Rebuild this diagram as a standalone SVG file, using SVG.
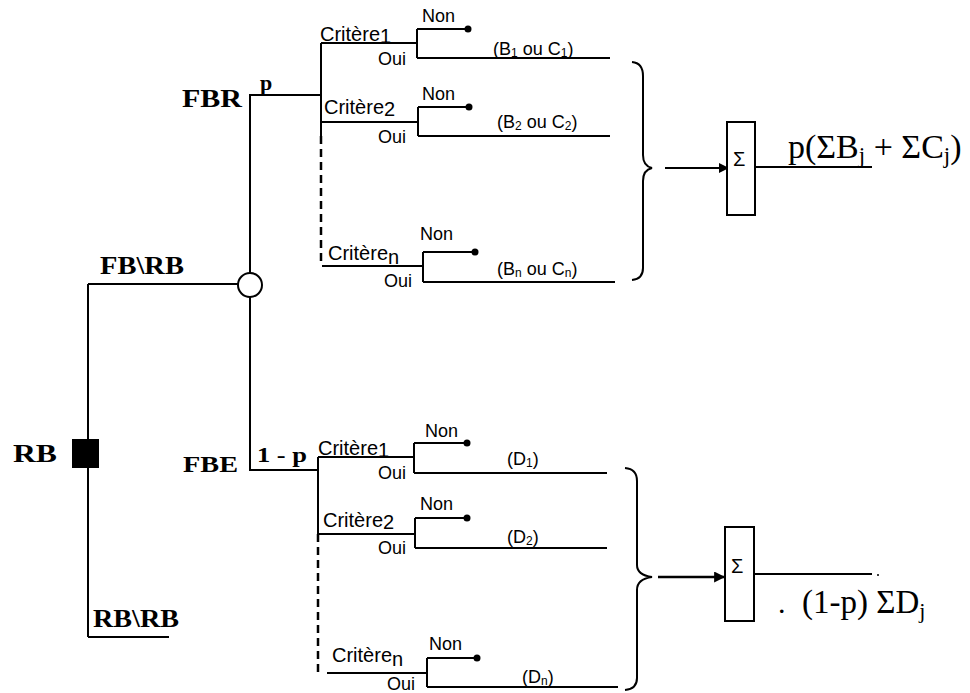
<svg xmlns="http://www.w3.org/2000/svg" width="970" height="693" viewBox="0 0 970 693">
<style>
.ln{stroke:#000;stroke-width:2;fill:none}
.dash{stroke:#000;stroke-width:2.5;fill:none;stroke-dasharray:8 5}
.s{font-family:"Liberation Sans",Arial,sans-serif;font-size:18px;fill:#000}
.s.c{font-size:20px}
.s.sig{font-size:20px}
.b{font-family:"Liberation Serif","Times New Roman",serif;font-weight:bold;fill:#000}
.m{font-family:"Liberation Serif","Times New Roman",serif;fill:#000}
.dot{fill:#000}
</style>
<defs>
<marker id="ah" viewBox="0 0 10 10" refX="9" refY="5" markerWidth="11" markerHeight="10" orient="auto" markerUnits="userSpaceOnUse">
<path d="M0,0 L10,5 L0,10 z" fill="#000"/>
</marker>
<marker id="ah2" viewBox="0 0 10 10" refX="9" refY="5" markerWidth="12" markerHeight="11" orient="auto" markerUnits="userSpaceOnUse">
<path d="M0,0 L10,5 L0,10 z" fill="#000"/>
</marker>
</defs>
<rect width="970" height="693" fill="#fff"/>

<g id="connectors">
<path class="ln" d="M88,284 V637 M88,284 H238 M88,637 H169"/>
<path class="ln" d="M250,273 V95 H321 M321,43 V136"/>
<path class="dash" d="M321,136 V266"/>
<path class="ln" d="M250,297 V470 H318 M318,457 V534"/>
<path class="dash" d="M318,534 V675"/>
<path class="ln" d="M665,168 H728" marker-end="url(#ah)"/>
<path class="ln" style="stroke-width:2.5" d="M658,577 H724" marker-end="url(#ah2)"/>
<path class="ln" d="M755,167 H872"/>
<path class="ln" d="M754,574 H872"/>
<circle class="dot" cx="878" cy="575" r="1"/>
</g>

<g id="node-RB">
<rect x="72" y="439" width="27" height="29" fill="#000"/>
<text class="b" x="13" y="462" font-size="25" textLength="44" lengthAdjust="spacingAndGlyphs">RB</text>
</g>
<g id="label-FBRB"><text class="b" x="100" y="274" font-size="26" textLength="84" lengthAdjust="spacingAndGlyphs">FB\RB</text></g>
<g id="label-RBRB"><text class="b" x="93" y="627" font-size="26" textLength="86" lengthAdjust="spacingAndGlyphs">RB\RB</text></g>

<g id="node-chance">
<circle cx="250" cy="285" r="12" fill="#fff" stroke="#000" stroke-width="2"/>
</g>

<g id="label-FBR">
<text class="b" x="182" y="107" font-size="25" textLength="60" lengthAdjust="spacingAndGlyphs">FBR</text>
<text class="b" x="260" y="90" font-size="22">p</text>
</g>
<g id="label-FBE">
<text class="b" x="183" y="472" font-size="24" textLength="55" lengthAdjust="spacingAndGlyphs">FBE</text>
<text class="b" x="257" y="462" font-size="22" textLength="50" lengthAdjust="spacingAndGlyphs">1 - p</text>
</g>

<g id="crit-top-1">
<path class="ln" d="M321,43 H417 M417,29 V58 M417,29 H468 M417,58 H610"/>
<circle class="dot" cx="468" cy="29" r="3.5"/>
<text class="s c" x="320" y="41">Critère<tspan dy="2">1</tspan></text>
<text class="s" x="422" y="22">Non</text>
<text class="s" x="378" y="65">Oui</text>
<text class="s" x="493" y="55">(B<tspan font-size="12" dy="2">1</tspan><tspan dy="-2"> ou C</tspan><tspan font-size="12" dy="2">1</tspan><tspan dy="-2">)</tspan></text>
</g>
<g id="crit-top-2">
<path class="ln" d="M321,122 H418 M418,107 V136 M418,107 H469 M418,136 H610"/>
<circle class="dot" cx="469" cy="107" r="3.5"/>
<text class="s c" x="324" y="114">Critère<tspan dy="2">2</tspan></text>
<text class="s" x="422" y="100">Non</text>
<text class="s" x="378" y="143">Oui</text>
<text class="s" x="497" y="128">(B<tspan font-size="12" dy="2">2</tspan><tspan dy="-2"> ou C</tspan><tspan font-size="12" dy="2">2</tspan><tspan dy="-2">)</tspan></text>
</g>
<g id="crit-top-n">
<path class="ln" d="M322,266 H423 M423,252 V282 M423,252 H475 M423,282 H615"/>
<circle class="dot" cx="475" cy="252" r="3.5"/>
<text class="s c" x="328" y="260">Critère<tspan dy="4">n</tspan></text>
<text class="s" x="420" y="240">Non</text>
<text class="s" x="384" y="287">Oui</text>
<text class="s" x="497" y="275">(B<tspan font-size="12" dy="2">n</tspan><tspan dy="-2"> ou C</tspan><tspan font-size="12" dy="2">n</tspan><tspan dy="-2">)</tspan></text>
</g>

<g id="crit-bot-1">
<path class="ln" d="M318,457 H414 M414,443 V473 M414,443 H467 M414,473 H607"/>
<circle class="dot" cx="467" cy="443" r="3.5"/>
<text class="s c" x="318" y="455">Critère<tspan dy="2">1</tspan></text>
<text class="s" x="425" y="437">Non</text>
<text class="s" x="378" y="479">Oui</text>
<text class="s" x="507" y="465">(D<tspan font-size="12" dy="2">1</tspan><tspan dy="-2">)</tspan></text>
</g>
<g id="crit-bot-2">
<path class="ln" d="M318,534 H415 M415,518 V548 M415,518 H467 M415,548 H607"/>
<circle class="dot" cx="467" cy="518" r="3.5"/>
<text class="s c" x="323" y="527">Critère<tspan dy="2">2</tspan></text>
<text class="s" x="420" y="510">Non</text>
<text class="s" x="378" y="554">Oui</text>
<text class="s" x="507" y="543">(D<tspan font-size="12" dy="2">2</tspan><tspan dy="-2">)</tspan></text>
</g>
<g id="crit-bot-n">
<path class="ln" d="M327,673 H427 M427,658 V687 M427,658 H477 M427,687 H618"/>
<circle class="dot" cx="477" cy="658" r="3.5"/>
<text class="s c" x="332" y="662">Critère<tspan dy="4">n</tspan></text>
<text class="s" x="429" y="650">Non</text>
<text class="s" x="387" y="690">Oui</text>
<text class="s" x="522" y="683">(D<tspan font-size="12" dy="2">n</tspan><tspan dy="-2">)</tspan></text>
</g>

<g id="brace-top">
<path class="ln" d="M632,62 Q643,63 643,76 V155 Q643,166 652,168 Q643,170 643,181 V268 Q643,279 632,280"/>
</g>
<g id="brace-bot">
<path class="ln" d="M625,468 Q637,469 637,481 V565 Q637,575 652,577 Q637,579 637,590 V678 Q637,689 625,690"/>
</g>

<g id="sum-top">
<rect x="727" y="122" width="28" height="93" fill="#fff" stroke="#000" stroke-width="2"/>
<text class="s sig" x="733" y="166">Σ</text>
<text class="m" x="788" y="158" font-size="34">p(ΣB<tspan font-size="23" dy="5">j</tspan><tspan dy="-5"> + ΣC</tspan><tspan font-size="23" dy="5">j</tspan><tspan dy="-5">)</tspan></text>
</g>
<g id="sum-bot">
<rect x="725" y="527" width="29" height="94" fill="#fff" stroke="#000" stroke-width="2"/>
<text class="s sig" x="731" y="573">Σ</text>
<text class="m" x="778" y="613" font-size="30">.</text>
<text class="m" x="802" y="613" font-size="33">(1-p) ΣD<tspan font-size="22" dy="5">j</tspan></text>
</g>
</svg>
